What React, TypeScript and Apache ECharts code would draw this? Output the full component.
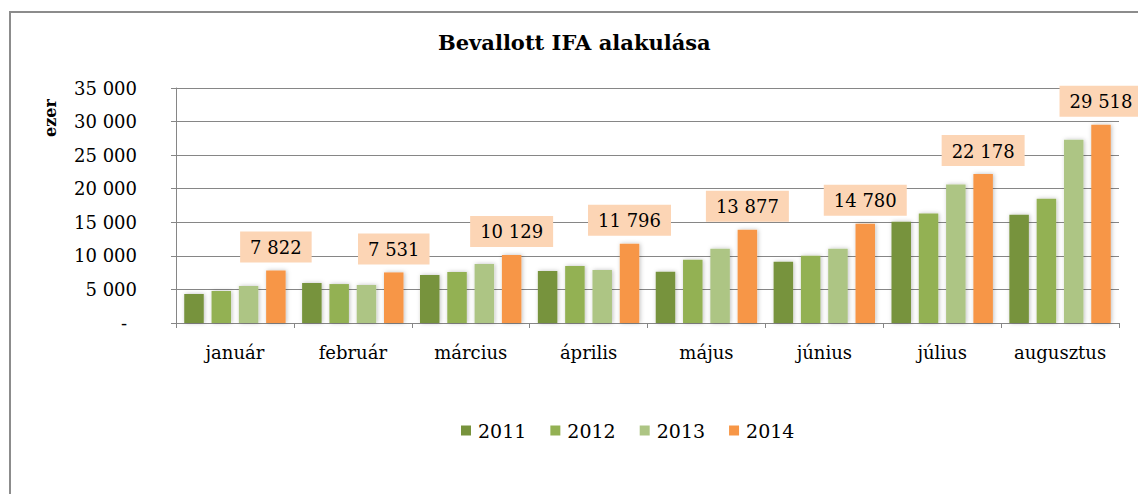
import React, { useEffect, useRef } from "react";
import * as echarts from "echarts";

const categories = ["január", "február", "március", "április", "május", "június", "július", "augusztus"];
const seriesNames = ["2011", "2012", "2013", "2014"];
const values2011 = [4320, 5960, 7150, 7750, 7650, 9140, 15090, 16140];
const values2012 = [4770, 5800, 7600, 8490, 9430, 10030, 16290, 18520];
const values2013 = [5510, 5660, 8790, 7900, 11070, 11070, 20610, 27310];
const values2014 = [7822, 7531, 10129, 11796, 13877, 14780, 22178, 29518];
const colors = ["#77933c", "#93b153", "#adc584", "#f79646"];

const FONT = "DejaVu Serif";

const fmt = (v: number) => String(v).replace(/\B(?=(\d{3})+(?!\d))/g, " ");

export default function App() {
  const ref = useRef<HTMLDivElement>(null);
  useEffect(() => {
    if (!ref.current) return;
    const chart = echarts.init(ref.current, undefined, { renderer: "svg" });
    const data = [values2011, values2012, values2013, values2014];
    const shadow = {
      shadowBlur: 4,
      shadowColor: "rgba(0,0,0,0.25)",
      shadowOffsetX: 1,
      shadowOffsetY: 0,
    };
    const tickStyle = { fontFamily: FONT, fontSize: 18, color: "#000" };
    chart.setOption({
      animation: false,
      backgroundColor: "#ffffff",
      color: colors,
      title: {
        text: "Bevallott IFA alakulása",
        left: 438,
        top: 32,
        padding: 0,
        textStyle: { fontFamily: FONT, fontWeight: "bold", fontSize: 21, color: "#000" },
      },
      graphic: [
        {
          type: "rect",
          shape: { x: 10, y: 12, width: 1150, height: 500 },
          style: { fill: "none", stroke: "#8c8c8c", lineWidth: 2 },
          silent: true,
        },
        {
          type: "text",
          x: 50,
          y: 118,
          rotation: Math.PI / 2,
          style: {
            text: "ezer",
            fontFamily: FONT,
            fontWeight: "bold",
            fontSize: 16,
            fill: "#000",
            align: "center",
            verticalAlign: "middle",
          },
        },
      ],
      legend: {
        data: seriesNames,
        left: 461,
        top: 421,
        padding: 0,
        itemWidth: 10,
        itemHeight: 10,
        itemGap: 24,
        icon: "rect",
        textStyle: { fontFamily: FONT, fontSize: 19, color: "#000", padding: [0, 0, 0, 2] },
      },
      grid: { left: 176, right: 19, top: 88, bottom: 171, containLabel: false },
      xAxis: {
        type: "category",
        data: categories,
        axisLine: { lineStyle: { color: "#868686", width: 1 } },
        axisTick: { show: true, length: 5, lineStyle: { color: "#868686" } },
        axisLabel: { interval: 0, fontFamily: FONT, fontSize: 18, color: "#000", margin: 20 },
      },
      yAxis: {
        type: "value",
        min: 0,
        max: 35000,
        interval: 5000,
        axisLine: { show: true, lineStyle: { color: "#868686", width: 1 } },
        axisTick: { show: true, length: 5, lineStyle: { color: "#868686" } },
        splitLine: { lineStyle: { color: "#868686", width: 1 } },
        axisLabel: {
          ...tickStyle,
          margin: 39,
          formatter: (v: number) => (v === 0 ? "{d|-}" : "{n|" + fmt(v) + "}"),
          rich: {
            n: { ...tickStyle },
            d: { ...tickStyle, padding: [0, 10, 0, 0] },
          },
        },
      },
      series: seriesNames.map((name, i) => ({
        name,
        type: "bar",
        data: data[i],
        barWidth: 19.5,
        barGap: "40%",
        itemStyle: { color: colors[i], ...shadow },
        label:
          i === 3
            ? {
                show: true,
                position: "top",
                distance: 8,
                backgroundColor: "#fcd5b5",
                padding: [7, 10, 6, 10],
                fontFamily: FONT,
                fontSize: 18,
                color: "#000",
                formatter: (p: any) => fmt(p.value),
              }
            : { show: false },
      })),
    });
    return () => chart.dispose();
  }, []);
  return (
    <div
      ref={ref}
      style={{ position: "absolute", left: 0, top: 0, width: 1138, height: 494 }}
    />
  );
}
